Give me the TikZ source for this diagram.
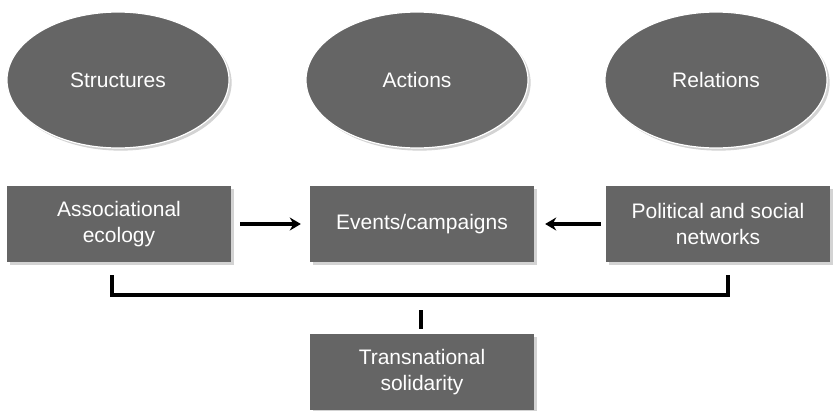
\documentclass[tikz,border=0pt]{standalone}
\usepackage{fontspec}
\setmainfont{Liberation Sans}
\usetikzlibrary{arrows.meta}
\usetikzlibrary{shapes}
\usetikzlibrary{positioning}
\usetikzlibrary{shadows}
\definecolor{boxgray}{HTML}{656565}

\begin{document}
\begin{tikzpicture}[x=1pt,y=-1pt]
        \useasboundingbox (0,0) rectangle (833,410);
        \begin{scope}[every node/.style={ellipse,fill=boxgray,draw=white,line width=1.2pt,
            text=white,minimum width=222pt,minimum height=136pt,
            font=\fontsize{21}{26}\selectfont,drop shadow={opacity=0.35}}]
            \node (struct) at (118, 80) {Structures};
            \node (act) at (417, 80) {Actions};
            \node (rel) at (716, 80) {Relations};
        \end{scope}
        \begin{scope}[every node/.style={rectangle,fill=boxgray,text=white,align=center,
            minimum width=224pt,minimum height=76pt,
            font=\fontsize{21}{26}\selectfont,drop shadow={opacity=0.35}}]
            \node (assoc) at (119, 224) {Associational\\ecology};
            \node (events) at (422, 224) {Events/campaigns};
            \node (polit) at (718, 224) {Political and social\\networks};
            \node (trans) at (422, 372) {Transnational\\solidarity};
        \end{scope}
        \coordinate (bl) at (112, 275);
        \coordinate (br) at (728, 275);
        \coordinate (tick) at (421, 310);
        \begin{scope}[>={Stealth[length=11pt,width=13pt]},line width=3.2pt]
            \draw [->] ([xshift=9pt]assoc.east) -- ([xshift=-9pt]events.west);
            \draw [->] ([xshift=-5pt]polit.west) -- ([xshift=11pt]events.east);
            \draw (bl) -- ++(0,20) -| (br);
            \draw (tick) -- ([yshift=5pt]trans.north -| tick);
        \end{scope}
    \end{tikzpicture}
\end{document}
